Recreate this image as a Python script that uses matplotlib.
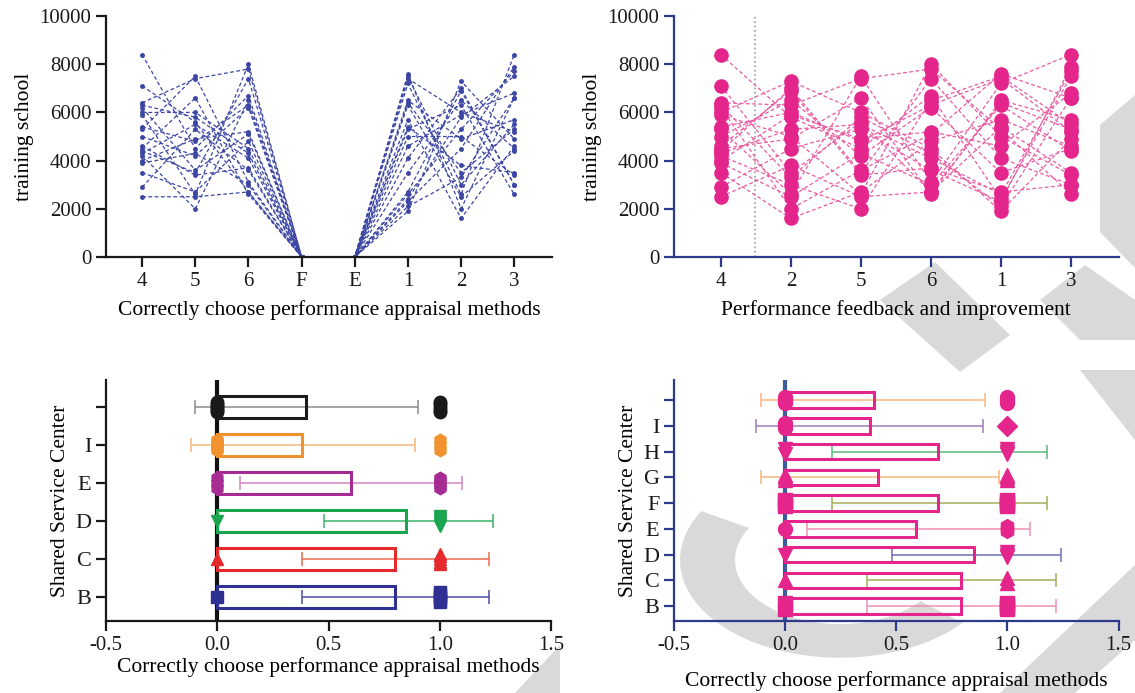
import numpy as np
import matplotlib.pyplot as plt
from matplotlib.patches import Polygon, Wedge

plt.rcParams['font.family'] = ['Liberation Serif', 'DejaVu Serif']
plt.rcParams['font.size'] = 15

#%% DATA
# parallel values per respondent (same respondent = same index)
q4 = [8400, 7100, 6400, 6200, 6000, 5900, 5300, 5000, 4500, 4400, 4300, 4200, 4000, 3500, 2900, 2500, 5400, 6300, 3900, 4600]
q5 = [4500, 5600, 7400, 3600, 6000, 2600, 7500, 4200, 6600, 3500, 5500, 2000, 4900, 2700, 5300, 2500, 4800, 5800, 4300, 3400]
q6 = [6700, 2700, 7800, 5100, 4500, 8000, 3100, 6200, 2600, 7400, 4100, 6500, 5200, 4800, 3600, 2700, 6300, 4300, 3000, 3700]
q1 = [2400, 6400, 5300, 7600, 1900, 5000, 7200, 3500, 6500, 4100, 2600, 7500, 4600, 5700, 2300, 5400, 7400, 2100, 6300, 2700]
q2 = [5800, 3500, 6300, 2000, 7300, 5000, 2600, 6500, 4900, 7000, 5300, 3000, 5900, 1600, 4500, 3800, 6000, 3300, 2500, 6900]
q3 = [7500, 5300, 2600, 6600, 4900, 3400, 8400, 4500, 5700, 3000, 7700, 5500, 6800, 4600, 7900, 3500, 5200, 6600, 4400, 3000]
qF = [0] * len(q4)
qE = [0] * len(q4)

left_order = ['4', '5', '6', 'F', 'E', '1', '2', '3']
right_order = ['4', '2', '5', '6', '1', '3']
cols = {'4': q4, '5': q5, '6': q6, '1': q1, '2': q2, '3': q3, 'F': qF, 'E': qE}

# bottom-left box chart
bl_labels = ['B', 'C', 'D', 'E', 'I', '']
bl_value = [0.80, 0.80, 0.85, 0.60, 0.38, 0.40]
bl_lo = [0.38, 0.38, 0.48, 0.10, -0.12, -0.10]
bl_hi = [1.22, 1.22, 1.24, 1.10, 0.89, 0.90]
bl_n0 = [1, 1, 1, 3, 6, 6]
bl_n1 = [6, 5, 6, 5, 3, 5]
bl_m0 = ['s', '^', 'v', 'h', 'h', 'o']
bl_m1 = ['s', '^', 'v', 'h', 'h', 'o']
bl_color = ['#2e3192', '#e52a2d', '#1aa650', '#a62b93', '#f2922e', '#1a1a1a']
bl_errc = ['#4a4ea8', '#ec6a4e', '#3cb468', '#d783c3', '#f5b87a', '#8c8c8c']

# bottom-right box chart
br_labels = ['B', 'C', 'D', 'E', 'F', 'G', 'H', 'I', '']
br_value = [0.79, 0.79, 0.85, 0.59, 0.69, 0.42, 0.69, 0.38, 0.40]
br_lo = [0.37, 0.37, 0.48, 0.10, 0.21, -0.11, 0.21, -0.13, -0.11]
br_hi = [1.22, 1.22, 1.24, 1.10, 1.18, 0.96, 1.18, 0.89, 0.90]
br_n0 = [2, 1, 1, 1, 3, 3, 2, 3, 4]
br_n1 = [4, 2, 3, 3, 4, 3, 3, 1, 3]
br_m0 = ['s', '^', 'v', 'o', 's', '^', 'v', 'o', 'o']
br_m1 = ['s', '^', 'v', 'h', 's', '^', 'v', 'D', 'o']
br_errc = ['#ee8fb8', '#a7ad5a', '#6c6fb8', '#ee8fb8', '#a7ad5a', '#f5b87a', '#5cb877', '#a07cb8', '#f5b87a']

NAVY = '#2d3a8c'
PINK = '#e4268c'

#%% FIGURE
fig = plt.figure(figsize=(11.35, 6.93), dpi=100)

# grey watermark behind everything (figure pixel coords)
W, H = 1135.0, 693.0
GREY = '#d9d9d9'
def fpoly(pts):
    return Polygon([(x / W, 1 - y / H) for x, y in pts], closed=True,
                   transform=fig.transFigure, facecolor=GREY, edgecolor='none', zorder=-1)
for pts in [
    [(1135, 95), (1100, 125), (1100, 232), (1135, 268)],
    [(1080, 370), (1135, 370), (1135, 440)],
    [(880, 300), (935, 262), (1010, 335), (960, 372)],
    [(1040, 300), (1085, 265), (1135, 300), (1135, 340), (1080, 340)],
    [(1000, 693), (1135, 565), (1135, 640), (1075, 693)],
    [(515, 693), (560, 645), (560, 693)],
]:
    fig.patches.append(fpoly(pts))
fig.patches.append(Wedge((840 / W, 1 - 560 / H), 160 / W, 150, 320, width=55 / W,
                         transform=fig.transFigure, facecolor=GREY, edgecolor='none', zorder=-1))

ax1 = fig.add_axes([0.0934, 0.6291, 0.3929, 0.3478])
ax2 = fig.add_axes([0.5938, 0.6291, 0.3917, 0.3478])
ax3 = fig.add_axes([0.0934, 0.1039, 0.3921, 0.3478])
ax4 = fig.add_axes([0.5938, 0.1039, 0.3917, 0.3478])

def style(ax, c):
    ax.patch.set_alpha(0)
    for s in ['top', 'right']:
        ax.spines[s].set_visible(False)
    for s in ['left', 'bottom']:
        ax.spines[s].set_color(c)
        ax.spines[s].set_linewidth(1.6)
    ax.tick_params(colors=c, labelcolor='#1a1a1a', width=1.6, length=7, direction='out')

# top-left: parallel lines
for i in range(len(q4)):
    ys = [cols[k][i] for k in left_order]
    ax1.plot(range(len(left_order)), ys, ls='--', lw=0.9, color='#3c46a3',
             marker='o', ms=2.5, dashes=(3, 2))
ax1.set_xticks(range(len(left_order)))
ax1.set_xticklabels(left_order)
ax1.set_xlim(-0.68, 7.71)
ax1.set_ylim(0, 10000)
ax1.set_yticks(range(0, 10001, 2000))
ax1.set_ylabel('training school', fontsize=15.5)
ax1.set_xlabel('Correctly choose performance appraisal methods', fontsize=15.5, labelpad=7)
style(ax1, '#1a1a1a')

# top-right
for i in range(len(q4)):
    ys = [cols[k][i] for k in right_order]
    ax2.plot(range(len(right_order)), ys, ls='--', lw=0.9, color='#ea5aa2',
             dashes=(3, 2), zorder=2)
    ax2.plot(range(len(right_order)), ys, ls='none', marker='o', ms=9.5,
             color=PINK, zorder=3)
ax2.axvline(0.49, color='#9a9aa8', ls=':', lw=1.2, zorder=1)
ax2.set_xticks(range(len(right_order)))
ax2.set_xticklabels(right_order)
ax2.set_xlim(-0.67, 5.68)
ax2.set_ylim(0, 10000)
ax2.set_yticks(range(0, 10001, 2000))
ax2.set_ylabel('training school', fontsize=15.5)
ax2.set_xlabel('Performance feedback and improvement', fontsize=15.5, labelpad=7)
style(ax2, NAVY)

# bottom panels
def boxes(ax, labels, vals, lo, hi, n0, n1, m0, m1, ecol, errc, ms, spread, vline_c, ylim):
    y = np.arange(len(labels))
    ax.axvline(0, color=vline_c, lw=3, zorder=1)
    for i in range(len(labels)):
        ax.barh(y[i], vals[i], height=0.6, fill=False, edgecolor=ecol[i], lw=2.2, zorder=3)
        mid = (lo[i] + hi[i]) / 2
        ax.errorbar(mid, y[i], xerr=(hi[i] - lo[i]) / 2, fmt='none', ecolor=errc[i],
                    elinewidth=1.1, capsize=5, capthick=1.1, zorder=2)
        off0 = np.linspace(-spread, spread, n0[i]) if n0[i] > 1 else [0]
        off1 = np.linspace(-spread, spread, n1[i]) if n1[i] > 1 else [0]
        ax.plot([0] * len(off0), y[i] + np.array(off0), ls='none', marker=m0[i],
                ms=ms, color=ecol[i], zorder=4)
        ax.plot([1] * len(off1), y[i] + np.array(off1), ls='none', marker=m1[i],
                ms=ms, color=ecol[i], zorder=4)
    ax.set_yticks(y)
    ax.set_yticklabels(labels, fontsize=16)
    ax.set_ylim(*ylim)
    ax.set_xlim(-0.5, 1.5)
    ax.set_xticks([-0.5, 0, 0.5, 1.0, 1.5])
    ax.set_xticklabels(['-0.5', '0.0', '0.5', '1.0', '1.5'])
    ax.set_ylabel('Shared Service Center', fontsize=15.5)
    ax.set_xlabel('Correctly choose performance appraisal methods', fontsize=15.5, labelpad=2)

boxes(ax3, bl_labels, bl_value, bl_lo, bl_hi, bl_n0, bl_n1, bl_m0, bl_m1,
      bl_color, bl_errc, 9, 0.14, '#111111', (-0.63, 5.71))
style(ax3, '#1a1a1a')

boxes(ax4, br_labels, br_value, br_lo, br_hi, br_n0, br_n1, br_m0, br_m1,
      [PINK] * len(br_labels), br_errc, 10, 0.1, '#3a5b9c', (-0.58, 8.78))
style(ax4, NAVY)
ax4.set_xlabel('Correctly choose performance appraisal methods', fontsize=15.5, labelpad=12)

fig.savefig('out.png', dpi=100)
